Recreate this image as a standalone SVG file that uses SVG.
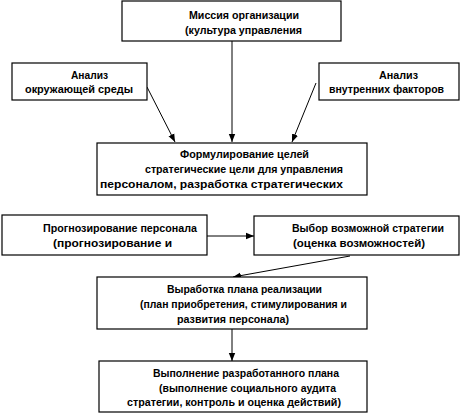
<svg xmlns="http://www.w3.org/2000/svg" width="462" height="415" viewBox="0 0 462 415">
<style>
rect.box{fill:#fff;stroke:#000;stroke-width:1.2}
text{font-family:"Liberation Sans",Arial,sans-serif;font-size:10px;font-weight:bold;fill:#000}
.c line{stroke:#000;stroke-width:1}
</style>
<defs>
<marker id="ah" viewBox="0 0 8 8" refX="8" refY="4" markerWidth="8" markerHeight="8" markerUnits="userSpaceOnUse" orient="auto">
<path d="M0,0.8 L8,4 L0,7.2 Z" fill="#000"/>
</marker>
</defs>
<rect width="462" height="415" fill="#fff"/>
<g class="c">
<line x1="232" y1="41" x2="232" y2="142" marker-end="url(#ah)"/>
<line x1="147" y1="87" x2="175" y2="142" marker-end="url(#ah)"/>
<line x1="316" y1="83" x2="292" y2="142" marker-end="url(#ah)"/>
<line x1="207" y1="236" x2="254" y2="236" marker-end="url(#ah)"/>
<line x1="350" y1="256" x2="233" y2="277" marker-end="url(#ah)"/>
<line x1="232" y1="329" x2="232" y2="361" marker-end="url(#ah)"/>
</g>
<g id="n1"><rect class="box" x="122" y="1" width="219" height="40"/>
<text x="189" y="19" textLength="110" lengthAdjust="spacingAndGlyphs">Миссия организации</text>
<text x="185" y="34" textLength="117" lengthAdjust="spacingAndGlyphs">(культура управления</text></g>
<g id="n2"><rect class="box" x="12" y="63" width="135" height="37"/>
<text x="71" y="79" textLength="37" lengthAdjust="spacingAndGlyphs">Анализ</text>
<text x="25" y="93" textLength="108" lengthAdjust="spacingAndGlyphs">окружающей среды</text></g>
<g id="n3"><rect class="box" x="319" y="63" width="140" height="37"/>
<text x="379" y="79" textLength="39" lengthAdjust="spacingAndGlyphs">Анализ</text>
<text x="329" y="93" textLength="115" lengthAdjust="spacingAndGlyphs">внутренних факторов</text></g>
<g id="n4"><rect class="box" x="97" y="143" width="270" height="52"/>
<text x="180" y="158" textLength="129" lengthAdjust="spacingAndGlyphs">Формулирование целей</text>
<text x="145" y="173" textLength="198" lengthAdjust="spacingAndGlyphs">стратегические цели для управления</text>
<text x="100" y="188" textLength="243" lengthAdjust="spacingAndGlyphs">персоналом, разработка стратегических</text></g>
<g id="n5"><rect class="box" x="2" y="215" width="205" height="40"/>
<text x="43" y="232" textLength="154" lengthAdjust="spacingAndGlyphs">Прогнозирование персонала</text>
<text x="53" y="247" textLength="119" lengthAdjust="spacingAndGlyphs">(прогнозирование и</text></g>
<g id="n6"><rect class="box" x="254" y="216" width="205" height="39"/>
<text x="292" y="232" textLength="152" lengthAdjust="spacingAndGlyphs">Выбор возможной стратегии</text>
<text x="293" y="247" textLength="132" lengthAdjust="spacingAndGlyphs">(оценка возможностей)</text></g>
<g id="n7"><rect class="box" x="97" y="277" width="270" height="52"/>
<text x="167" y="293" textLength="155" lengthAdjust="spacingAndGlyphs">Выработка плана реализации</text>
<text x="140" y="308" textLength="207" lengthAdjust="spacingAndGlyphs">(план приобретения, стимулирования и</text>
<text x="177" y="323" textLength="112" lengthAdjust="spacingAndGlyphs">развития персонала)</text></g>
<g id="n8"><rect class="box" x="99" y="361" width="268" height="51"/>
<text x="153" y="377" textLength="186" lengthAdjust="spacingAndGlyphs">Выполнение разработанного плана</text>
<text x="159" y="392" textLength="177" lengthAdjust="spacingAndGlyphs">(выполнение социального аудита</text>
<text x="127" y="406" textLength="214" lengthAdjust="spacingAndGlyphs">стратегии, контроль и оценка действий)</text></g>
</svg>
